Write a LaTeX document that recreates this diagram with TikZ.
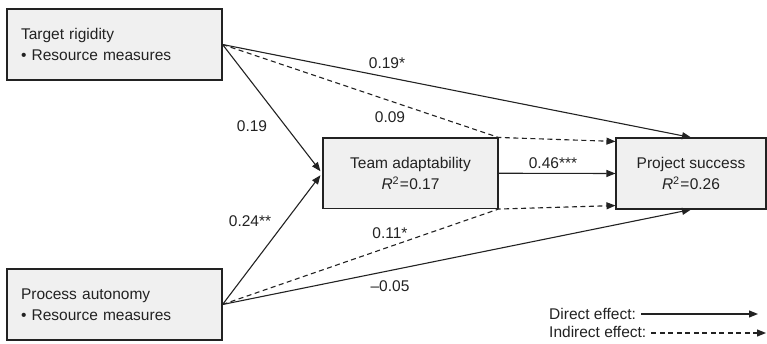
\documentclass[tikz,border=0pt]{standalone}
\usepackage{fontspec}
\setmainfont{Liberation Sans}
\usetikzlibrary{arrows.meta,calc}
\definecolor{boxfill}{HTML}{F0F0F0}
\definecolor{ink}{HTML}{222222}
\newcommand{\fsz}{\fontsize{15.5}{21}\selectfont}
\begin{document}
\begin{tikzpicture}[x=1pt,y=-1pt,
  box/.style={draw=ink, fill=boxfill, line width=1.1pt, inner sep=0pt, font=\fsz, text=ink},
  lbl/.style={inner sep=1pt, font=\fsz, text=ink},
  direct/.style={draw=ink, line width=1.1pt, -{Triangle[length=9pt,width=7pt]}},
  indirect/.style={direct, dash pattern=on 5pt off 3.5pt},
]
\useasboundingbox (0,0) rectangle (767,344);
% boxes
\node[box, minimum width=215pt, minimum height=71pt, text width=187pt, align=left] (tr) at (114.5,44.5)
  {Target rigidity\\• Resource measures};
\node[box, minimum width=215pt, minimum height=71pt, text width=187pt, align=left] (pa) at (114.5,304.5)
  {Process autonomy\\• Resource measures};
\node[box, minimum width=175pt, minimum height=70.5pt, align=center] (ta) at (410.5,173.25)
  {Team adaptability\\\textit{R}\textsuperscript{2}\kern0.5pt=\kern0.5pt0.17};
\node[box, minimum width=150pt, minimum height=71pt, align=center] (ps) at (691,173.5)
  {Project success\\\textit{R}\textsuperscript{2}\kern0.5pt=\kern0.5pt0.26};
% connectors
\draw[direct] (tr.east) -- (ps.north);
\draw[indirect] (tr.east) -- (ta.north east) -- ($(ps.north west)+(0,4)$);
\draw[direct] (tr.east) -- ($(ta.west)+(-2,-2)$);
\draw[direct] (pa.east) -- ($(ta.west)+(-2,2)$);
\draw[direct] (ta.east) -- (ps.west);
\draw[indirect] (pa.east) -- (ta.south east) -- ($(ps.south west)+(0,-4)$);
\draw[direct] (pa.east) -- (ps.south);
% labels
\node[lbl] (l1) at (387,63) {0.19*};
\node[lbl] (l2) at (390,117) {0.09};
\node[lbl] (l3) at (252,126) {0.19};
\node[lbl] (l4) at (250,221) {0.24**};
\node[lbl] (l5) at (390,233) {0.11*};
\node[lbl] (l6) at (390,286) {–0.05};
\node[lbl] (l7) at (553,163) {0.46***};
% legend
\node[lbl, anchor=west] (de) at (548,314) {Direct effect:};
\coordinate (deend) at (758,314);
\draw[direct] ($(de.east)+(4,0)$) -- (deend);
\node[lbl, anchor=west] (ie) at (548,332) {Indirect effect:};
\coordinate (ieend) at (766,333);
\draw[indirect] ($(ie.east)+(4,1)$) -- (ieend);
\end{tikzpicture}
\end{document}
